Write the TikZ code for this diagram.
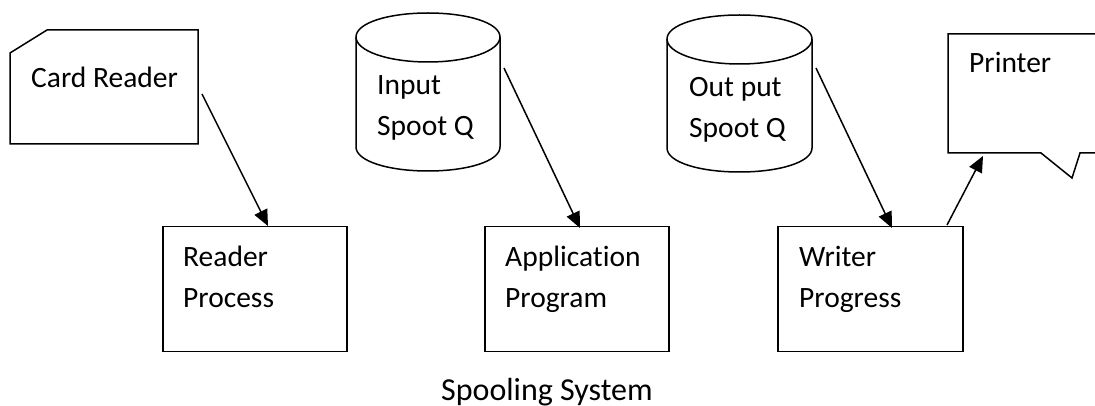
\documentclass[tikz,border=0pt]{standalone}
\usepackage{fontspec}
\setmainfont{Carlito}[Ligatures=NoCommon]
\usetikzlibrary{arrows.meta}
\tikzset{
  x=1pt,y=-1pt,
  outline/.style={draw=black,line width=1.5pt,line join=miter},
  procbox/.style={outline,rectangle,minimum width=#1,minimum height=124.5pt,inner sep=0pt,anchor=north west},
  lbl/.style={font=\fontsize{29.5}{41}\selectfont,anchor=base west,inner sep=0pt,text=black},
  conn/.style={draw=black,line width=1.5pt,-{Triangle[length=16pt,width=14pt]}}
}
\begin{document}
\begin{tikzpicture}
\useasboundingbox (0,0) rectangle (1095,406);
% Card reader
\draw[outline] (47,30) -- (198,30) -- (198,144) -- (10,144) -- (10,53) -- cycle;
\node[lbl] (cardlbl) at (31,88) {Card Reader};
% Input cylinder
\draw[outline] (356,37) .. controls (356,23) and (388,13) .. (428,13) .. controls (468,13) and (500,23) .. (500,37)
  -- (500,147) .. controls (500,161) and (468,171) .. (428,171) .. controls (388,171) and (356,161) .. (356,147) -- cycle;
\draw[outline] (356,37) .. controls (356,51) and (388,62) .. (428,62) .. controls (468,62) and (500,51) .. (500,37);
\node[lbl] (inlbl1) at (377,95) {Input};
\node[lbl] (inlbl2) at (377,136) {Spoot Q};
% Output cylinder
\draw[outline] (667,39) .. controls (667,25) and (699,15) .. (739.5,15) .. controls (780,15) and (812,25) .. (812,39)
  -- (812,148) .. controls (812,162) and (780,172) .. (739.5,172) .. controls (699,172) and (667,162) .. (667,148) -- cycle;
\draw[outline] (667,39) .. controls (667,53) and (699,64) .. (739.5,64) .. controls (780,64) and (812,53) .. (812,39);
\node[lbl] (outlbl1) at (689,97) {Out put};
\node[lbl] (outlbl2) at (689,138) {Spoot Q};
% Printer
\draw[outline] (1100,34) -- (948,34) -- (948,153) -- (1041,153) -- (1072,178) -- (1080,153) -- (1100,153);
\node[lbl] (prlbl) at (969,73) {Printer};
% Process boxes
\node[procbox=184pt] (rp) at (162,226) {};
\node[procbox=184pt] (ap) at (484,226) {};
\node[procbox=185pt] (wp) at (777,226) {};
\node[lbl] (rplbl1) at (183,266) {Reader};
\node[lbl] (rplbl2) at (183,307) {Process};
\node[lbl] (aplbl1) at (505,266) {Application};
\node[lbl] (aplbl2) at (505,307) {Program};
\node[lbl] (wplbl1) at (799,266) {Writer};
\node[lbl] (wplbl2) at (799,307) {Progress};
\node[lbl,font=\fontsize{32}{38}\selectfont] (cap) at (441,400) {Spooling System};
% Connectors
\coordinate (c1) at (202,94); \coordinate (e1) at (268,226);
\coordinate (c2) at (504,68); \coordinate (e2) at (580,228);
\coordinate (c3) at (816,68); \coordinate (e3) at (892,228);
\coordinate (c4) at (947,225); \coordinate (e4) at (983,156);
\draw[conn] (c1) -- (e1);
\draw[conn] (c2) -- (e2);
\draw[conn] (c3) -- (e3);
\draw[conn] (c4) -- (e4);
\end{tikzpicture}
\end{document}
